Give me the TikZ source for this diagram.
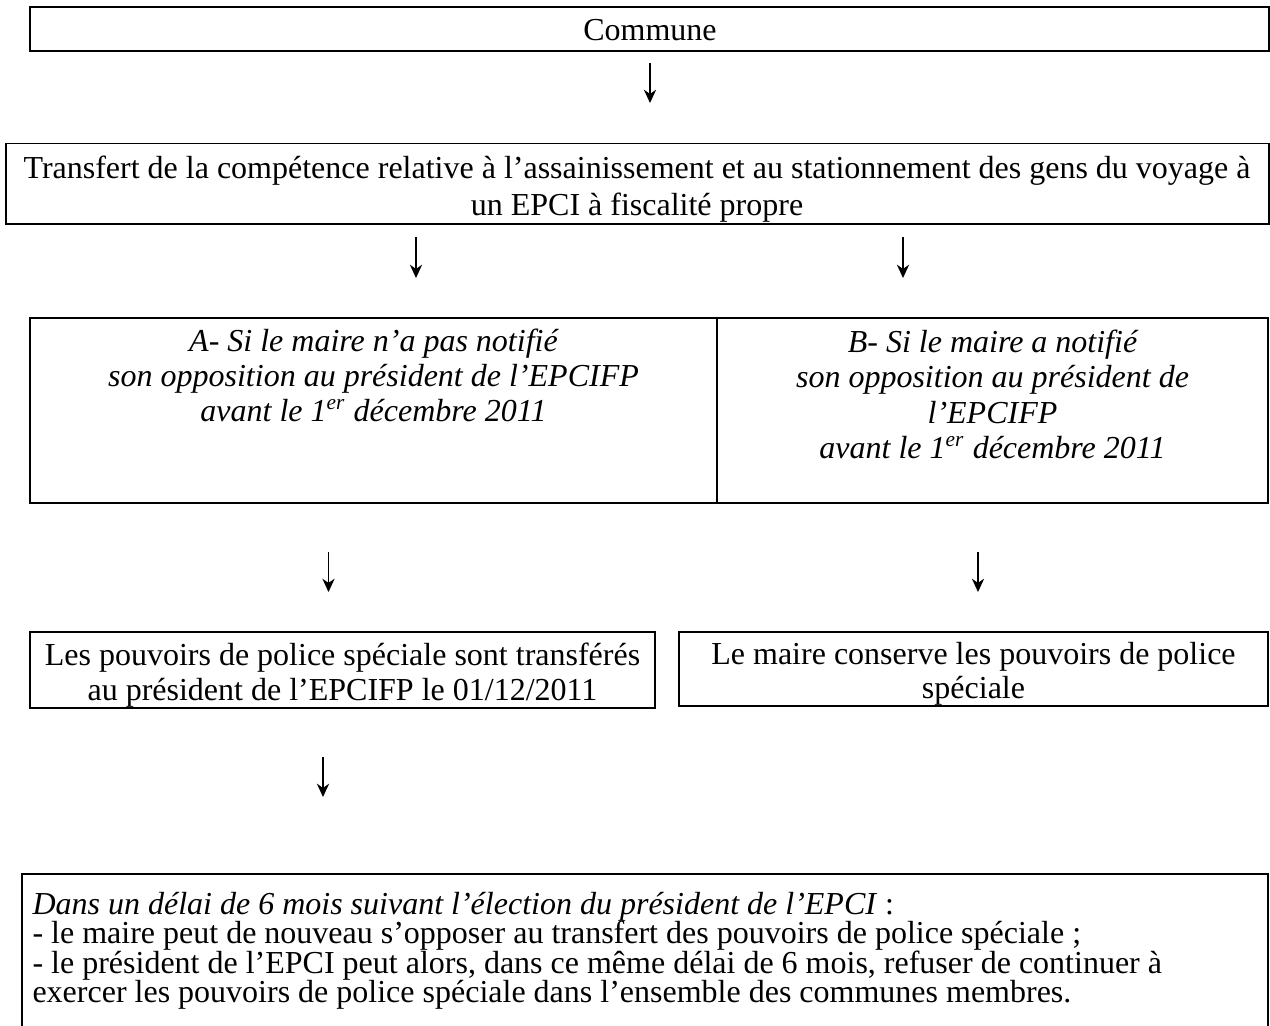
\documentclass[tikz,border=0pt]{standalone}
\usepackage{fontspec}
\setmainfont{Liberation Serif}
\usetikzlibrary{arrows.meta}
\begin{document}
\begin{tikzpicture}[x=0.375pt,y=-0.375pt,
  box/.style={draw, line width=0.6pt, inner sep=0pt, outer sep=0pt, rectangle},
  txt/.style={inner sep=0pt, font=\fontsize{12}{14}\selectfont, anchor=base},
  ltxt/.style={txt, anchor=base west},
  arr/.style={line width=0.45pt, -{Stealth[length=5pt,width=4.6pt,inset=1.6pt]}},
]
\useasboundingbox (0,0) rectangle (1270,1025);
\clip (0,0) rectangle (1270,1025);

% boxes
\node[box, minimum width=464.625pt, minimum height=16.5pt] (commune) at (649.5,29) {};
\node[box, minimum width=473.7pt, minimum height=30.2pt] (transfert) at (637.35,183.75) {};
\node[box, minimum width=257.6pt, minimum height=69.375pt] (boxA) at (373.5,410.5) {};
\node[box, minimum width=206.6pt, minimum height=69.375pt] (boxB) at (992.5,410.5) {};
\node[box, minimum width=234.4pt, minimum height=28.5pt] (boxP) at (342.5,670) {};
\node[box, minimum width=220.9pt, minimum height=27.75pt] (boxM) at (973.5,669) {};
\node[box, minimum width=467.25pt, minimum height=64.125pt] (boxD) at (645,959.5) {};

% texts
\node[txt] (tCommune) at (650,40) {Commune};
\node[txt] (tT1) at (637,178) {Transfert de la compétence relative à l’assainissement et au stationnement des gens du voyage à};
\node[txt] (tT2) at (637,215.5) {un EPCI à fiscalité propre};

\node[txt] (tA1) at (373.5,351) {\itshape A- Si le maire n’a pas notifié};
\node[txt] (tA2) at (373.5,386) {\itshape son opposition au président de l’EPCIFP};
\node[txt] (tA3) at (373.5,421) {\itshape avant le 1\textsuperscript{er} décembre 2011};

\node[txt] (tB1) at (992.5,352) {\itshape B- Si le maire a notifié};
\node[txt] (tB2) at (992.5,387) {\itshape son opposition au président de};
\node[txt] (tB3) at (992.5,423) {\itshape l’EPCIFP};
\node[txt] (tB4) at (992.5,458) {\itshape avant le 1\textsuperscript{er} décembre 2011};

\node[txt] (tP1) at (342.5,665) {Les pouvoirs de police spéciale sont transférés};
\node[txt] (tP2) at (342.5,700) {au président de l’EPCIFP le 01/12/2011};

\node[txt] (tM1) at (973.5,664) {Le maire conserve les pouvoirs de police};
\node[txt] (tM2) at (973.5,698) {spéciale};

\node[ltxt] (tD1) at (32,914) {\textit{Dans un délai de 6 mois suivant l’élection du président de l’EPCI} :};
\node[ltxt] (tD2) at (32,943.5) {- le maire peut de nouveau s’opposer au transfert des pouvoirs de police spéciale ;};
\node[ltxt] (tD3) at (32,973) {- le président de l’EPCI peut alors, dans ce même délai de 6 mois, refuser de continuer à};
\node[ltxt] (tD4) at (32,1002.5) {exercer les pouvoirs de police spéciale dans l’ensemble des communes membres.};

% arrows
\coordinate (a1s) at (650,63);   \coordinate (a1e) at (650,103);
\coordinate (a2s) at (416,237);  \coordinate (a2e) at (416,278);
\coordinate (a3s) at (903,237);  \coordinate (a3e) at (903,278);
\coordinate (a4s) at (328.5,552);\coordinate (a4e) at (328.5,592);
\coordinate (a5s) at (978,552);  \coordinate (a5e) at (978,592);
\coordinate (a6s) at (323,757);  \coordinate (a6e) at (323,797);
\draw[arr] (a1s) -- (a1e);
\draw[arr] (a2s) -- (a2e);
\draw[arr] (a3s) -- (a3e);
\draw[arr] (a4s) -- (a4e);
\draw[arr] (a5s) -- (a5e);
\draw[arr] (a6s) -- (a6e);
\end{tikzpicture}
\end{document}
